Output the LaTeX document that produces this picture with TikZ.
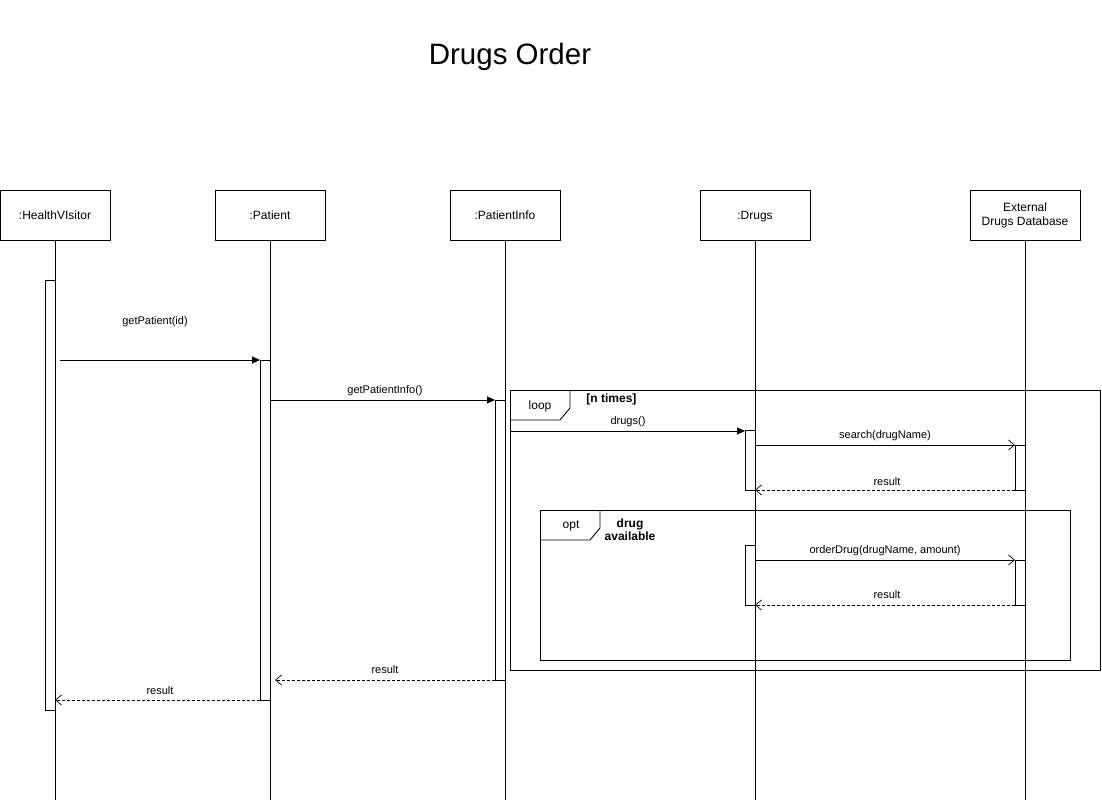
\documentclass[tikz,border=0pt]{standalone}
\usepackage{fontspec}
\setmainfont{Liberation Sans}
\usetikzlibrary{arrows.meta}
\begin{document}
\begin{tikzpicture}[x=1pt,y=-1pt,line width=0.9pt,
  objbox/.style={draw,minimum width=110pt,minimum height=50pt,inner sep=0pt,align=center,font=\fontsize{12}{14}\selectfont},
  actbar/.style={draw,fill=white,minimum width=10pt,inner sep=0pt},
  lifeline/.style={draw},
  msg/.style={-{Triangle[length=8pt,width=7pt]}},
  call/.style={-{Straight Barb[length=6pt,width=10pt,line width=0.7pt]}},
  ret/.style={dashed,dash pattern=on 3pt off 2pt,-{Straight Barb[length=6pt,width=10pt,line width=0.7pt]}},
  lbl/.style={font=\fontsize{11}{13}\selectfont,inner sep=0pt},
  frame/.style={draw,fill=none},
  tag/.style={font=\fontsize{12}{14}\selectfont,inner sep=0pt},
  guard/.style={font=\bfseries\fontsize{12}{13}\selectfont,inner sep=0pt,align=center}]
\useasboundingbox (0,0) rectangle (1102,802);
% title
\node[font=\fontsize{29.5}{32}\selectfont,inner sep=0pt] (title) at (510,57) {Drugs Order};
% object boxes
\node[objbox] (hv) at (55,215) {:HealthVIsitor};
\node[objbox] (pa) at (270,215) {:Patient};
\node[objbox] (pi) at (505,215) {:PatientInfo};
\node[objbox] (dr) at (755,215) {\raisebox{0pt}[\height][0pt]{:Drugs}};
\node[objbox] (ex) at (1025,215) {External\\Drugs Database};
% lifeline ends
\coordinate (hvE) at (55,800);
\coordinate (paE) at (270,800);
\coordinate (piE) at (505,800);
\coordinate (drE) at (755,800);
\coordinate (exE) at (1025,800);
% frames
\draw[frame] (510,390) rectangle (1100,670);
\draw (570,390) -- (570,408) -- (560,420) -- (510,420);
\node[tag] (looptag) at (540,406) {loop};
\node[guard,anchor=north west] (loopguard) at (586,393) {[n times]};
\draw[frame] (540,510) rectangle (1070,660);
\draw (600,510) -- (600,528) -- (590,540) -- (540,540);
\node[tag] (opttag) at (571,526) {opt};
\node[guard] (optguard) at (630,530) {drug\\available};
% activation bars
\node[actbar,minimum height=430pt] (hvA) at (50,495) {};
\node[actbar,minimum height=340pt] (paA) at (265,530) {};
\node[actbar,minimum height=280pt] (piA) at (500,540) {};
\node[actbar,minimum height=60pt] (drA1) at (750,460) {};
\node[actbar,minimum height=45pt] (exA1) at (1020,467.5) {};
\node[actbar,minimum height=60pt] (drA2) at (750,575) {};
\node[actbar,minimum height=45pt] (exA2) at (1020,582.5) {};
% lifelines
\draw[lifeline] (hv.south) -- (hvE);
\draw[lifeline] (pa.south) -- (paE);
\draw[lifeline] (pi.south) -- (piE);
\draw[lifeline] (dr.south) -- (drE);
\draw[lifeline] (ex.south) -- (exE);
% message endpoints
\coordinate (m1s) at (60,360);   \coordinate (m1e) at (260,360);
\coordinate (m2s) at (270,400);  \coordinate (m2e) at (495,400);
\coordinate (m3s) at (510,431);  \coordinate (m3e) at (745,431);
\coordinate (m4s) at (755,445);  \coordinate (m4e) at (1015,445);
\coordinate (m5s) at (1015,490); \coordinate (m5e) at (755,490);
\coordinate (m6s) at (755,560);  \coordinate (m6e) at (1015,560);
\coordinate (m7s) at (1015,605); \coordinate (m7e) at (755,605);
\coordinate (m8s) at (495,680);  \coordinate (m8e) at (275,680);
\coordinate (m9s) at (260,700);  \coordinate (m9e) at (55,700);
% messages
\draw[msg] (m1s) -- (m1e);
\node[lbl] (l1) at (155,322) {getPatient(id)};
\draw[msg] (m2s) -- (m2e);
\node[lbl] (l2) at (385,391) {getPatientInfo()};
\draw[msg] (m3s) -- (m3e);
\node[lbl] (l3) at (628,422) {drugs()};
\draw[call] (m4s) -- (m4e);
\node[lbl] (l4) at (885,436) {search(drugName)};
\draw[ret] (m5s) -- (m5e);
\node[lbl] (l5) at (887,482) {result};
\draw[call] (m6s) -- (m6e);
\node[lbl] (l6) at (885,551) {orderDrug(drugName, amount)};
\draw[ret] (m7s) -- (m7e);
\node[lbl] (l7) at (887,595) {result};
\draw[ret] (m8s) -- (m8e);
\node[lbl] (l8) at (385,670) {result};
\draw[ret] (m9s) -- (m9e);
\node[lbl] (l9) at (160,691) {result};
\end{tikzpicture}
\end{document}
